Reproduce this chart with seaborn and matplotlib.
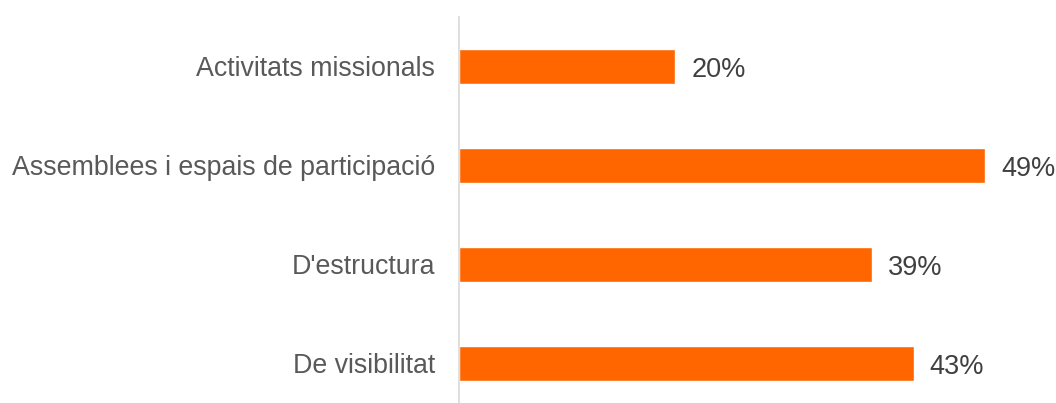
import matplotlib
matplotlib.use("Agg")
import matplotlib.pyplot as plt
import seaborn as sns
import pandas as pd

# Data
categories = [
    "Activitats missionals",
    "Assemblees i espais de participació",
    "D'estructura",
    "De visibilitat",
]
values = [20.3, 49.3, 38.7, 42.6]
labels = ["20%", "49%", "39%", "43%"]

BAR_COLOR = "#FF6600"

sns.set_theme(style="white")
plt.rcParams["font.family"] = ["Liberation Sans", "DejaVu Sans"]

df = pd.DataFrame({"categoria": categories, "valor": values})

fig = plt.figure(figsize=(10.56, 4.03), dpi=100)
ax = fig.add_axes([458.5 / 1056, 0.0, 555.4 / 1056, 386.3 / 403])

sns.barplot(data=df, y="categoria", x="valor", color=BAR_COLOR, width=0.354,
            saturation=1, ax=ax, orient="h")

for bar, lab in zip(ax.patches, labels):
    ax.text(bar.get_width() + 1.5, bar.get_y() + bar.get_height() / 2 + 0.04, lab,
            va="center", ha="left", fontsize=19.5, color="#404040")

ax.set_xlim(0, 52)
ax.set_ylim(3.4, -0.5)
ax.set_xlabel("")
ax.set_ylabel("")
ax.set_xticks([])
ax.tick_params(axis="y", length=0, pad=17, labelsize=19.3, labelcolor="#595959")

for side in ["top", "right", "bottom"]:
    ax.spines[side].set_visible(False)
ax.spines["left"].set_color("#d9d9d9")
ax.spines["left"].set_linewidth(1.2)

fig.savefig("out.png", dpi=100)
